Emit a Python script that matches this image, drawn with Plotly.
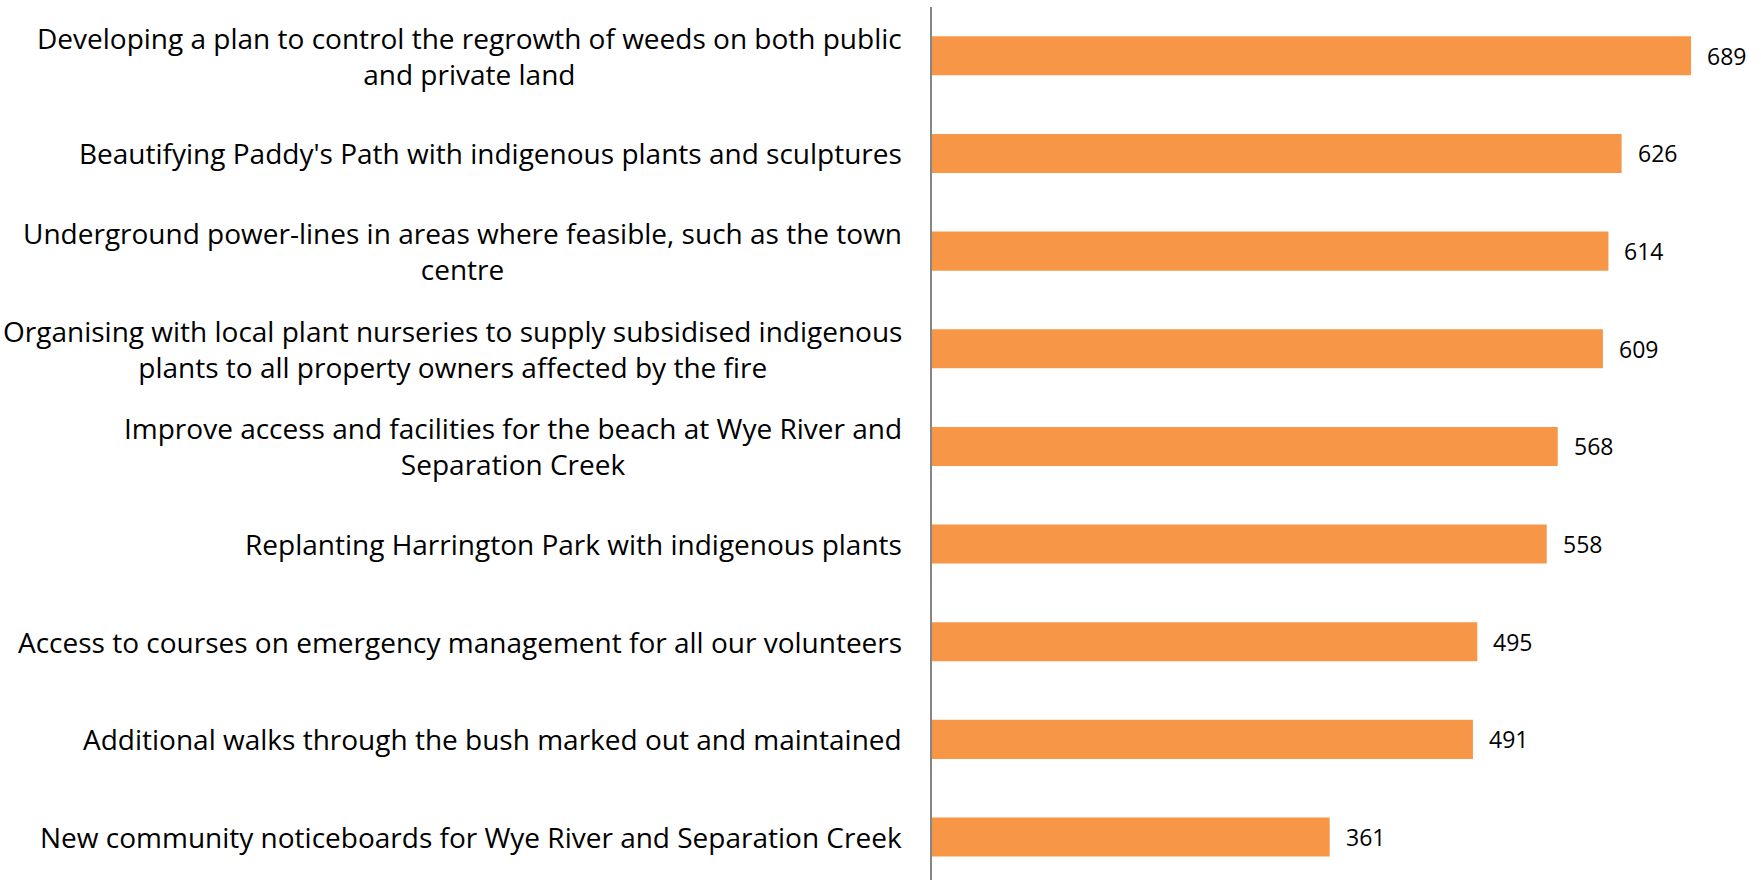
import plotly.graph_objects as go

categories = [
    "Developing a plan to control the regrowth of weeds on both public<br>and private land",
    "Beautifying Paddy's Path with indigenous plants and sculptures",
    "Underground power-lines in areas where feasible, such as the town<br>centre",
    "Organising with local plant nurseries to supply subsidised indigenous<br>plants to all property owners affected by the fire",
    "Improve access and facilities for the beach at Wye River and<br>Separation Creek",
    "Replanting Harrington Park with indigenous plants",
    "Access to courses on emergency management for all our volunteers",
    "Additional walks through the bush marked out and maintained",
    "New community noticeboards for Wye River and Separation Creek",
]
values = [689, 626, 614, 609, 568, 558, 495, 491, 361]

FONT = "Open Sans, sans-serif"
positions = list(range(len(categories)))

fig = go.Figure()
fig.add_trace(go.Bar(
    x=values, y=positions, orientation="h",
    marker=dict(color="#F79646", line=dict(width=0)),
    width=0.4, hoverinfo="x",
))

annotations = []
for p, c in zip(positions, categories):
    annotations.append(dict(
        x=0, y=p, xref="x", yref="y", text=c, showarrow=False,
        xanchor="right", yanchor="middle", align="center", xshift=-28,
        font=dict(family=FONT, size=28, color="#000000"),
    ))
for p, v in zip(positions, values):
    annotations.append(dict(
        x=v, y=p, xref="x", yref="y", text=str(v), showarrow=False,
        xanchor="left", yanchor="middle", xshift=14,
        font=dict(family=FONT, size=23, color="#000000"),
    ))

fig.update_layout(
    width=1761, height=880,
    margin=dict(l=932, r=0, t=7, b=0),
    paper_bgcolor="white", plot_bgcolor="white",
    showlegend=False,
    annotations=annotations,
    xaxis=dict(range=[0, 752.5], showgrid=False, zeroline=False,
               showticklabels=False, ticks="", showline=False),
    yaxis=dict(range=[8.44, -0.5], showgrid=False, zeroline=False,
               showticklabels=False, ticks="", showline=True,
               linecolor="#868686", linewidth=1.5, mirror=False),
)

fig.write_html("out.html", config={"displayModeBar": False},
               post_script="document.body.style.margin='0';")
